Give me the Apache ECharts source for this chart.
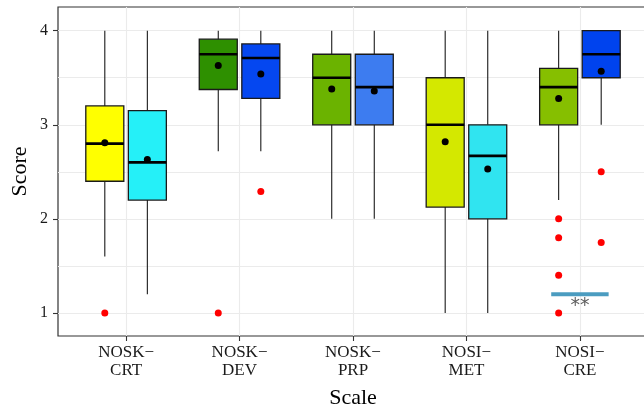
<!DOCTYPE html>
<html>
<head>
<meta charset="utf-8">
<script src="https://cdn.jsdelivr.net/npm/echarts@6/dist/echarts.min.js"></script>
<style>
html, body { margin: 0; padding: 0; background: #fff; }
#chart { width: 644px; height: 412px; }
</style>
</head>
<body>
<div id="chart"></div>
<script>
// scales on the x axis
var categories = ['NOSK\u2212\nCRT', 'NOSK\u2212\nDEV', 'NOSK\u2212\nPRP', 'NOSI\u2212\nMET', 'NOSI\u2212\nCRE'];
// box stats: [lower whisker, Q1, median, Q3, upper whisker]
var leftBoxes = [
    [1.6, 2.4, 2.8, 3.2, 4.0],
    [2.72, 3.375, 3.75, 3.91, 4.0],
    [2.0, 3.0, 3.5, 3.75, 4.0],
    [1.0, 2.125, 3.0, 3.5, 4.0],
    [2.2, 3.0, 3.4, 3.6, 4.0]
];
var rightBoxes = [
    [1.2, 2.2, 2.6, 3.15, 4.0],
    [2.72, 3.28, 3.71, 3.86, 4.0],
    [2.0, 3.0, 3.4, 3.75, 4.0],
    [1.0, 2.0, 2.67, 3.0, 4.0],
    [3.0, 3.5, 3.75, 4.0, 4.0]
];
var leftMeans = [2.81, 3.63, 3.38, 2.82, 3.28];
var rightMeans = [2.63, 3.54, 3.36, 2.53, 3.57];
// outliers: [category index, score]
var leftOutliers = [[0, 1.0], [1, 1.0], [4, 2.0], [4, 1.8], [4, 1.4], [4, 1.0]];
var rightOutliers = [[1, 2.29], [4, 2.5], [4, 1.75]];
var yTicks = [1, 2, 3, 4];
var yGrid = [1, 1.5, 2, 2.5, 3, 3.5, 4];
// significance mark
var sigCategory = 4;
var sigValue = 1.2;
var sigLabel = '**';

var leftColors = ['#ffff00', '#2e9000', '#6bb300', '#d4e800', '#86bf00'];
var rightColors = ['#25f0f8', '#0547f0', '#3d7cf0', '#30e4f0', '#0043ee'];

var dodge = 0.1875;
var boxWidth = 0.335;
var serif = '"Liberation Serif", "DejaVu Serif", serif';

function boxData(boxes, offset) {
    return boxes.map(function (b, i) {
        return [i + 1 + offset].concat(b);
    });
}
function pointData(list, offset) {
    return list.map(function (p) { return [p[0] + 1 + offset, p[1]]; });
}
function meanData(list, offset) {
    return list.map(function (v, i) { return [i + 1 + offset, v]; });
}

function boxRenderer(colors) {
    return function (params, api) {
        var x = api.value(0);
        var half = api.size([boxWidth, 0])[0] / 2;
        var lo = api.coord([x, api.value(1)]);
        var q1 = api.coord([x, api.value(2)]);
        var med = api.coord([x, api.value(3)]);
        var q3 = api.coord([x, api.value(4)]);
        var hi = api.coord([x, api.value(5)]);
        var cx = lo[0];
        var stroke = '#1a1a1a';
        return {
            type: 'group',
            children: [
                { type: 'line', shape: { x1: cx, y1: hi[1], x2: cx, y2: q3[1] }, style: { stroke: stroke, lineWidth: 1.1 } },
                { type: 'line', shape: { x1: cx, y1: q1[1], x2: cx, y2: lo[1] }, style: { stroke: stroke, lineWidth: 1.1 } },
                { type: 'rect', shape: { x: cx - half, y: q3[1], width: half * 2, height: q1[1] - q3[1] },
                  style: { fill: colors[params.dataIndex], stroke: stroke, lineWidth: 1.3 } },
                { type: 'line', shape: { x1: cx - half, y1: med[1], x2: cx + half, y2: med[1] },
                  style: { stroke: '#000', lineWidth: 2.6 } }
            ]
        };
    };
}

var chart = echarts.init(document.getElementById('chart'));
chart.setOption({
    animation: false,
    grid: {
        left: 58, right: -4, top: 7, bottom: 76, outerBoundsMode: 'none', containLabel: false,
        show: true, borderColor: '#333', borderWidth: 1.2
    },
    xAxis: {
        type: 'value', min: 0.4, max: 5.6,
        name: 'Scale', nameLocation: 'middle', nameGap: 51,
        nameTextStyle: { fontFamily: serif, fontSize: 22, color: '#000' },
        axisLine: { show: false },
        axisTick: { show: true, customValues: [1, 2, 3, 4, 5], length: 5, lineStyle: { color: '#333', width: 1.1 } },
        axisLabel: {
            customValues: [1, 2, 3, 4, 5], margin: 8, lineHeight: 18,
            fontFamily: serif, fontSize: 17, color: '#1a1a1a',
            formatter: function (v) { return categories[Math.round(v) - 1]; }
        },
        splitLine: { show: true, lineStyle: { color: '#ebebeb', width: 1.1 } }
    },
    yAxis: [{
        type: 'value', min: 0.755, max: 4.252,
        name: 'Score', nameLocation: 'middle', nameGap: 27,
        nameTextStyle: { fontFamily: serif, fontSize: 22, color: '#000' },
        axisLine: { show: false },
        axisTick: { show: false, customValues: yGrid },
        axisLabel: { show: false },
        splitLine: { show: true, lineStyle: { color: '#ebebeb', width: 1.1 } }
    }, {
        type: 'value', min: 0.755, max: 4.252, position: 'left',
        axisLine: { show: false },
        axisTick: { show: true, customValues: yTicks, length: 5, lineStyle: { color: '#333', width: 1.1 } },
        axisLabel: { customValues: yTicks, margin: 10, fontFamily: serif, fontSize: 16, color: '#1a1a1a' },
        splitLine: { show: false }
    }],
    series: [
        { type: 'custom', renderItem: boxRenderer(leftColors), data: boxData(leftBoxes, -dodge), encode: { x: 0, y: [1, 2, 3, 4, 5] } },
        { type: 'custom', renderItem: boxRenderer(rightColors), data: boxData(rightBoxes, dodge), encode: { x: 0, y: [1, 2, 3, 4, 5] } },
        { type: 'scatter', data: meanData(leftMeans, -dodge), symbolSize: 7, itemStyle: { color: '#000', opacity: 1 } },
        { type: 'scatter', data: meanData(rightMeans, dodge), symbolSize: 7, itemStyle: { color: '#000', opacity: 1 } },
        { type: 'scatter', data: pointData(leftOutliers, -dodge), symbolSize: 7, itemStyle: { color: '#ff0000', opacity: 1 } },
        { type: 'scatter', data: pointData(rightOutliers, dodge), symbolSize: 7, itemStyle: { color: '#ff0000', opacity: 1 } },
        {
            type: 'line', symbol: 'none',
            data: [[sigCategory + 1 - 0.253, sigValue], [sigCategory + 1 + 0.253, sigValue]],
            lineStyle: { color: '#4b9cc0', width: 4 }
        },
        {
            type: 'scatter', symbolSize: 1, itemStyle: { color: 'rgba(0,0,0,0)' },
            data: [[sigCategory + 1, sigValue]],
            label: {
                show: true, position: 'inside', offset: [0, 12],
                formatter: sigLabel, fontFamily: '"DejaVu Sans", sans-serif', fontSize: 19, color: '#333'
            }
        }
    ]
});
</script>
</body>
</html>
